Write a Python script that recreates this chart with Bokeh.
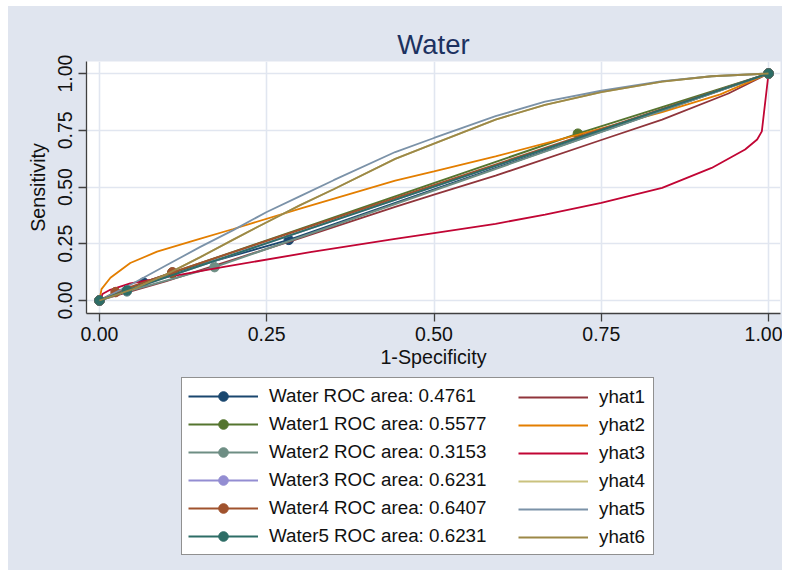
from bokeh.plotting import figure
from bokeh.layouts import column
from bokeh.models import Legend, LegendItem, FixedTicker, Range1d
from bokeh.embed import file_html
from bokeh.resources import INLINE

# ---- data: empirical ROC points (1-specificity, sensitivity) ----
water_x = [0, 0.066, 0.109, 0.283, 1]
water_y = [0, 0.079, 0.122, 0.267, 1]
water1_x = [0, 0.109, 0.715, 1]
water1_y = [0, 0.122, 0.735, 1]
water2_x = [0, 0.041, 0.172, 1]
water2_y = [0, 0.040, 0.147, 1]
water3_x = [0, 0.041, 1]
water3_y = [0, 0.044, 1]
water4_x = [0, 0.024, 0.109, 1]
water4_y = [0, 0.037, 0.124, 1]
water5_x = [0, 0.041, 1]
water5_y = [0, 0.044, 1]

# ---- data: fitted (binormal) ROC curves ----
yhat1_x = [0, 0.1, 0.2, 0.3, 0.442, 0.5, 0.592, 0.75, 0.841, 0.94, 1]
yhat1_y = [0, 0.085, 0.18, 0.275, 0.412, 0.466, 0.55, 0.707, 0.797, 0.912, 1]
yhat2_x = [0, 0.003, 0.0164, 0.046, 0.086, 0.146, 0.2, 0.3, 0.442, 0.5, 0.592, 0.716, 0.841, 0.928, 1]
yhat2_y = [0, 0.05, 0.1, 0.165, 0.215, 0.268, 0.315, 0.405, 0.528, 0.569, 0.635, 0.731, 0.83, 0.908, 1]
yhat3_x = [0, 0.005, 0.016, 0.046, 0.111, 0.186, 0.315, 0.442, 0.5, 0.592, 0.666, 0.75, 0.841, 0.915, 0.965, 0.983, 0.99, 1]
yhat3_y = [0, 0.03, 0.047, 0.075, 0.108, 0.148, 0.213, 0.271, 0.297, 0.338, 0.378, 0.43, 0.496, 0.584, 0.665, 0.709, 0.745, 1]
yhat4_x = [0, 0.05, 0.1, 0.15, 0.2, 0.25, 0.3, 0.35, 0.442, 0.5, 0.592, 0.666, 0.75, 0.841, 0.915, 1]
yhat4_y = [0, 0.05, 0.115, 0.19, 0.268, 0.345, 0.42, 0.49, 0.624, 0.691, 0.797, 0.862, 0.918, 0.964, 0.988, 1]
yhat5_x = [0, 0.05, 0.1, 0.15, 0.2, 0.25, 0.3, 0.35, 0.442, 0.5, 0.592, 0.666, 0.75, 0.841, 0.915, 1]
yhat5_y = [0, 0.075, 0.155, 0.235, 0.31, 0.39, 0.46, 0.53, 0.654, 0.716, 0.812, 0.876, 0.924, 0.966, 0.988, 1]
yhat6_x = [0, 0.05, 0.1, 0.15, 0.2, 0.25, 0.3, 0.35, 0.442, 0.5, 0.592, 0.666, 0.75, 0.841, 0.915, 1]
yhat6_y = [0, 0.05, 0.115, 0.19, 0.268, 0.345, 0.42, 0.49, 0.624, 0.691, 0.797, 0.862, 0.918, 0.964, 0.988, 1]

roc_labels = ["Water ROC area: 0.4761", "Water1 ROC area: 0.5577", "Water2 ROC area: 0.3153",
              "Water3 ROC area: 0.6231", "Water4 ROC area: 0.6407", "Water5 ROC area: 0.6231"]
fit_labels = ["yhat1", "yhat2", "yhat3", "yhat4", "yhat5", "yhat6"]
tick_values = [0, 0.25, 0.5, 0.75, 1]
tick_labels = ["0.00", "0.25", "0.50", "0.75", "1.00"]

roc_colors = ["#1A476F", "#55752F", "#6E8E84", "#938DD2", "#A0522D", "#2D6D66"]
fit_colors = ["#90353B", "#E37E00", "#C10534", "#CAC27E", "#7B92A8", "#9C8847"]

BG = "#E0E5EF"
FONT = "Liberation Sans"

# ---------------- main plot ----------------
p = figure(width=774, height=370, output_backend="svg", toolbar_location=None,
           x_range=Range1d(-0.0194, 1.0179), y_range=Range1d(-0.0573, 1.0529),
           min_border_left=78, min_border_right=2, min_border_top=55, min_border_bottom=63)
p.background_fill_color = "white"
p.border_fill_color = BG
p.outline_line_color = None

p.title.text = "Water"
p.title.align = "center"
p.title.text_font = FONT
p.title.text_font_size = "27.5px"
p.title.text_font_style = "normal"
p.title.text_color = "#1C3160"
p.title.standoff = 3

for ax in (p.xaxis[0], p.yaxis[0]):
    ax.ticker = FixedTicker(ticks=tick_values)
    ax.major_label_overrides = dict(zip(tick_values, tick_labels))
    ax.major_label_text_font = FONT
    ax.major_label_text_font_size = "19.5px"
    ax.major_label_text_color = "#111111"
    ax.axis_label_text_font = FONT
    ax.axis_label_text_font_size = "19.7px"
    ax.axis_label_text_font_style = "normal"
    ax.axis_label_text_color = "#111111"
    ax.axis_line_color = "#404040"
    ax.axis_line_width = 1.3
    ax.major_tick_line_color = "#404040"
    ax.major_tick_line_width = 1.3
    ax.major_tick_in = 0
    ax.major_tick_out = 8
    ax.minor_tick_line_color = None
    ax.major_label_standoff = 5

p.xaxis.axis_label = "1-Specificity"
p.xaxis.axis_label_standoff = 2
p.yaxis.axis_label = "Sensitivity"
p.yaxis.axis_label_standoff = 7
p.yaxis.major_label_orientation = "vertical"
p.yaxis.major_label_standoff = 6

p.grid.grid_line_color = "#E1E6F0"
p.grid.grid_line_width = 1.6

roc_series = [(water_x, water_y), (water1_x, water1_y), (water2_x, water2_y),
              (water3_x, water3_y), (water4_x, water4_y), (water5_x, water5_y)]
fit_series = [(yhat1_x, yhat1_y), (yhat2_x, yhat2_y), (yhat3_x, yhat3_y),
              (yhat4_x, yhat4_y), (yhat5_x, yhat5_y), (yhat6_x, yhat6_y)]

# ---------------- legend panel (figure whose frame holds the legend) ----------------
lg = figure(width=774, height=194, output_backend="svg", toolbar_location=None,
            x_range=Range1d(10, 11), y_range=Range1d(10, 11),
            x_axis_location=None, y_axis_location=None,
            min_border_left=0, min_border_right=0, min_border_top=0, min_border_bottom=0)
lg.background_fill_color = None
lg.border_fill_color = BG
lg.outline_line_color = None
lg.grid.visible = False


def draw(fig, i, with_items, roc_items, fit_items):
    rx, ry = roc_series[i]
    l1 = fig.line(rx, ry, line_color=roc_colors[i], line_width=2)
    s1 = fig.scatter(rx, ry, size=9.5, fill_color=roc_colors[i], line_color=roc_colors[i])
    fx, fy = fit_series[i]
    l2 = fig.line(fx, fy, line_color=fit_colors[i], line_width=1.8)
    if with_items:
        roc_items.append(LegendItem(label=roc_labels[i], renderers=[l1, s1]))
        fit_items.append(LegendItem(label=fit_labels[i], renderers=[l2]))


roc_items, fit_items = [], []
for i in range(6):
    draw(p, i, False, None, None)          # visible chart marks
    draw(lg, i, True, roc_items, fit_items)  # legend swatches (outside lg's ranges)

common = dict(orientation="vertical", margin=0, padding=6, spacing=4,
              glyph_width=70, glyph_height=24, label_height=24, label_standoff=11,
              label_text_font=FONT, label_text_font_size="18.8px", label_text_color="#111111")
leg_a = Legend(items=roc_items, location=(95, 15), label_width=378,
               background_fill_color="white", background_fill_alpha=1.0,
               border_line_color="#222222", border_line_width=1.2, **common)
leg_b = Legend(items=fit_items, location=(426, 15),
               background_fill_alpha=0.0, border_line_alpha=0.0, **common)
lg.add_layout(leg_a, "center")
lg.add_layout(leg_b, "center")

layout = column(p, lg, spacing=0, margin=(6, 0, 0, 8), styles={"background-color": BG})

open("out.html", "w").write(file_html(layout, INLINE))
